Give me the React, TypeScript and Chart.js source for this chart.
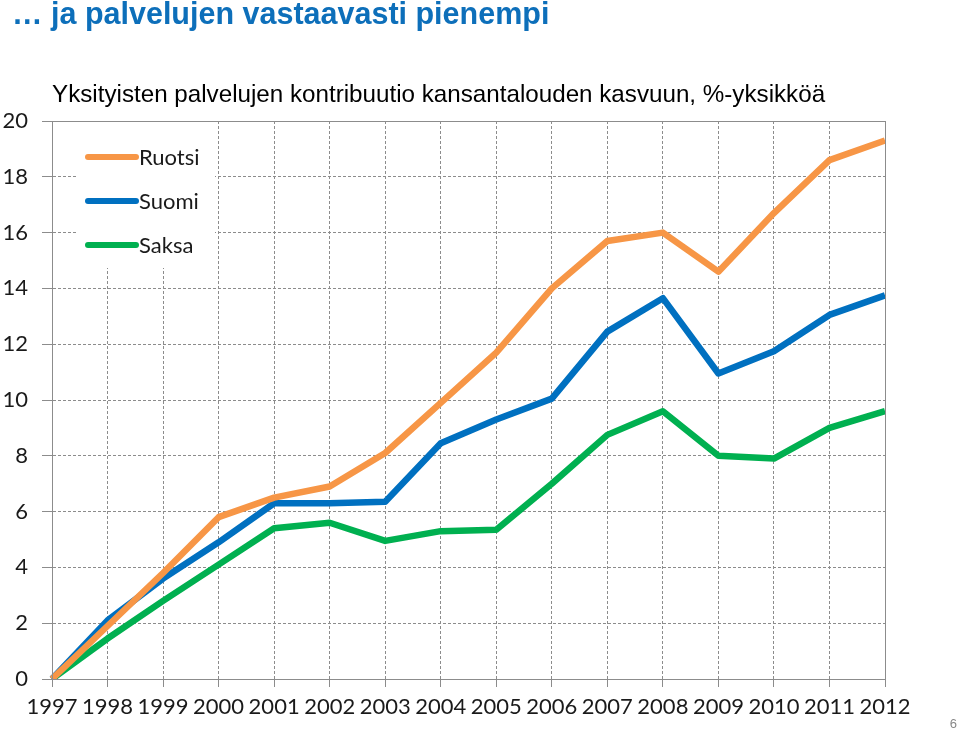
import React, { useEffect, useRef } from "react";
import { Chart, registerables } from "chart.js";

Chart.register(...registerables);

const years = ["1997", "1998", "1999", "2000", "2001", "2002", "2003", "2004", "2005", "2006", "2007", "2008", "2009", "2010", "2011", "2012"];
const ruotsi = [0, 1.9, 3.8, 5.8, 6.5, 6.9, 8.1, 9.9, 11.7, 14.0, 15.7, 16.0, 14.6, 16.7, 18.6, 19.3];
const suomi = [0, 2.1, 3.6, 4.9, 6.3, 6.3, 6.35, 8.45, 9.3, 10.05, 12.45, 13.65, 10.95, 11.75, 13.05, 13.75];
const saksa = [0, 1.45, 2.8, 4.1, 5.4, 5.6, 4.95, 5.3, 5.35, 7.0, 8.75, 9.6, 8.0, 7.9, 9.0, 9.6];
const seriesNames = ["Ruotsi", "Suomi", "Saksa"];
const seriesColors = ["#F79646", "#0070C0", "#00B050"];
const titleText = "\u2026 ja palvelujen vastaavasti pienempi";
const subtitleText = "Yksityisten palvelujen kontribuutio kansantalouden kasvuun, %-yksikk\u00f6\u00e4";

const FONT = "Lato, 'DejaVu Sans', sans-serif";
const GRID = "#8c8c8c";

const frameAndLegend = {
  id: "frameAndLegend",
  afterDraw(chart: any) {
    const { ctx, chartArea } = chart;
    ctx.save();
    // solid frame around plot area
    ctx.strokeStyle = GRID;
    ctx.lineWidth = 1;
    ctx.setLineDash([]);
    ctx.strokeRect(chartArea.left + 0.5, chartArea.top + 0.5, chartArea.right - chartArea.left, chartArea.bottom - chartArea.top);
    // legend box
    const bx = chartArea.left + 26;
    const by = chartArea.top + 1;
    ctx.fillStyle = "#ffffff";
    ctx.fillRect(bx, by, 137, 146);
    ctx.font = "22px " + FONT;
    ctx.textBaseline = "middle";
    ctx.textAlign = "left";
    chart.data.datasets.forEach((ds: any, i: number) => {
      const y = chartArea.top + 36 + i * 44;
      ctx.strokeStyle = ds.borderColor;
      ctx.lineWidth = 6;
      ctx.lineCap = "round";
      ctx.beginPath();
      ctx.moveTo(chartArea.left + 36, y);
      ctx.lineTo(chartArea.left + 84, y);
      ctx.stroke();
      ctx.fillStyle = "#1a1a1a";
      ctx.fillText(ds.label, chartArea.left + 87, y + 1);
    });
    ctx.restore();
  },
};

export default function App() {
  const canvasRef = useRef<HTMLCanvasElement>(null);

  useEffect(() => {
    if (!canvasRef.current) return;
    const data = [ruotsi, suomi, saksa];
    const chart = new Chart(canvasRef.current, {
      type: "line",
      data: {
        labels: years,
        datasets: seriesNames.map((name, i) => ({
          label: name,
          data: data[i],
          borderColor: seriesColors[i],
          backgroundColor: seriesColors[i],
          borderWidth: 6.5,
          pointRadius: 0,
          tension: 0,
          borderJoinStyle: "round" as const,
          borderCapStyle: "butt" as const,
        })),
      },
      options: {
        animation: false,
        responsive: false,
        maintainAspectRatio: false,
        layout: { padding: { top: 121, right: 75, left: 0, bottom: 0 } },
        plugins: { legend: { display: false }, tooltip: { enabled: false }, title: { display: false } },
        scales: {
          x: {
            offset: false,
            grid: {
              color: GRID,
              lineWidth: 1,
              drawTicks: true,
              tickLength: 8,
              tickBorderDash: [],
              tickColor: GRID,
            },
            border: { color: GRID, width: 1, dash: [3, 2] },
            ticks: {
              color: "#1a1a1a",
              font: { family: FONT, size: 22 },
              padding: 7,
              maxRotation: 0,
              autoSkip: false,
            },
            afterFit(scale: any) {
              scale.height = 53;
            },
          },
          y: {
            min: 0,
            max: 20,
            grid: {
              color: GRID,
              lineWidth: 1,
              drawTicks: true,
              tickLength: 10,
              tickBorderDash: [],
              tickColor: GRID,
            },
            border: { color: GRID, width: 1, dash: [3, 2] },
            ticks: {
              stepSize: 2,
              color: "#1a1a1a",
              font: { family: FONT, size: 22 },
              padding: 14,
            },
            afterFit(scale: any) {
              scale.width = 52;
            },
          },
        },
      },
      plugins: [frameAndLegend],
    });
    return () => chart.destroy();
  }, []);

  return (
    <div style={{ position: "fixed", left: 0, top: 0, width: 960, height: 732, background: "#fff", overflow: "hidden" }}>
      <canvas ref={canvasRef} width={960} height={732} style={{ position: "absolute", left: 0, top: 0, width: 960, height: 732 }} />
      <div
        style={{
          position: "absolute",
          left: 12,
          top: -4,
          fontFamily: "'Liberation Sans', Arial, sans-serif",
          fontWeight: "bold",
          fontSize: 30.5,
          color: "#0D6FBA",
          whiteSpace: "nowrap",
        }}
      >
        {titleText}
      </div>
      <div
        style={{
          position: "absolute",
          left: 52,
          top: 80,
          fontFamily: "'Liberation Sans', Arial, sans-serif",
          fontSize: 24.2,
          color: "#000",
          whiteSpace: "nowrap",
        }}
      >
        {subtitleText}
      </div>
      <div
        style={{
          position: "absolute",
          right: 3,
          top: 716,
          fontFamily: "'Liberation Sans', Arial, sans-serif",
          fontSize: 13,
          color: "#888",
        }}
      >
        6
      </div>
    </div>
  );
}
